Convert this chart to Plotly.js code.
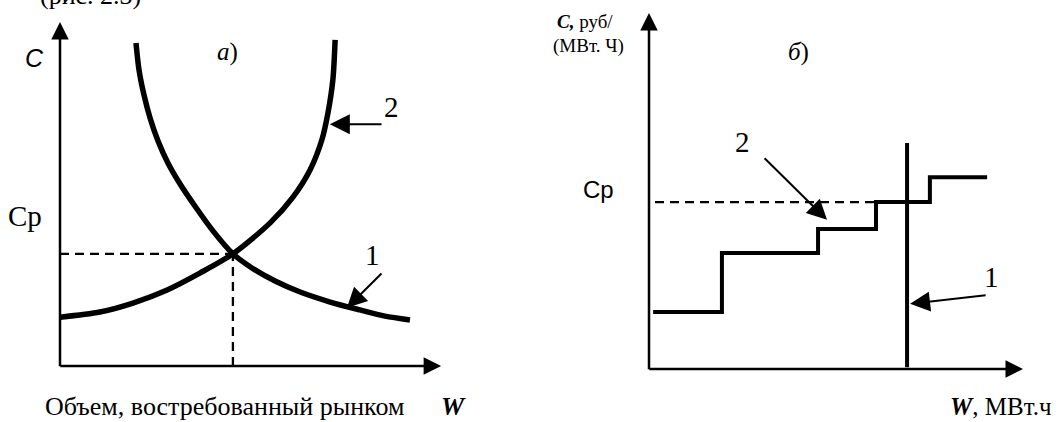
<!DOCTYPE html>
<html>
<head>
<meta charset="utf-8">
<script src="https://cdn.plot.ly/plotly-3.0.1.min.js"></script>
<style>html,body{margin:0;padding:0;background:#fff;}#chart{width:1061px;height:422px;}</style>
</head>
<body>
<div id="chart"></div>
<script>
// ---- Data (a): demand / supply curves, abstract units ----
const supplyW = [0, 10.5, 19.2, 28.2, 36.8, 45.5, 55.3, 61.3, 65.8, 68.9, 70.5, 71.8, 72.4];
const supplyC = [14.2, 15.7, 18.3, 22.1, 27.0, 32.6, 41.6, 49.1, 57.0, 65.7, 73.5, 83.1, 94.8];
const demandW = [20.0, 20.8, 22.1, 23.7, 25.8, 28.4, 31.6, 35.5, 40.3, 45.5, 50.5, 56.6, 63.2, 71.1, 78.9, 85.5, 92.1];
const demandC = [93.9, 86.0, 78.8, 72.1, 65.4, 59.0, 52.9, 46.5, 39.2, 32.6, 28.5, 24.7, 21.5, 18.6, 16.3, 14.5, 13.4];
const eqW = 45.5, eqC = 32.6;

// ---- Data (б): stepwise supply and fixed demand ----
const stepW = [1.1, 19.5, 45.2, 60.7, 75.1, 90.4];
const stepC = [16.0, 32.6, 39.3, 46.9, 53.9, 53.9];
const fixedW = [69.0, 69.0];
const fixedC = [0.5, 63.5];
const cpRight = 46.9;
const cpDashEnd = 60.7;

const W = 1061, H = 422;
function P(xp, yp){ return {x: xp / W, y: 1 - yp / H}; }
const SERIF = 'Liberation Serif, Times New Roman, serif';
const SANS = 'Liberation Sans, Arial, sans-serif';

const traces = [
  {x: supplyW, y: supplyC, xaxis:'x', yaxis:'y', mode:'lines', line:{color:'#000', width:5.5, shape:'spline', smoothing:0.8}},
  {x: demandW, y: demandC, xaxis:'x', yaxis:'y', mode:'lines', line:{color:'#000', width:5.5, shape:'spline', smoothing:0.8}},
  {x: [0, eqW], y: [eqC, eqC], xaxis:'x', yaxis:'y', mode:'lines', line:{color:'#000', width:2.3, dash:'9px,6px'}},
  {x: [eqW, eqW], y: [0, eqC], xaxis:'x', yaxis:'y', mode:'lines', line:{color:'#000', width:2.3, dash:'9px,6px'}},
  {x: [1.6, cpDashEnd], y: [cpRight, cpRight], xaxis:'x2', yaxis:'y2', mode:'lines', line:{color:'#000', width:2.3, dash:'9px,6px'}},
  {x: stepW, y: stepC, xaxis:'x2', yaxis:'y2', mode:'lines', line:{color:'#000', width:4, shape:'hv'}},
  {x: fixedW, y: fixedC, xaxis:'x2', yaxis:'y2', mode:'lines', line:{color:'#000', width:4}}
];

function txt(t, xp, yp, size, family){
  const p = P(xp, yp);
  return {text:t, x:p.x, y:p.y, xref:'paper', yref:'paper', showarrow:false,
          xanchor:'center', yanchor:'middle', font:{family:family||SERIF, size:size, color:'#000'}};
}
function arrow(xr, yr, tx, ty, fx, fy, head, size, width){
  return {text:'', x:tx, y:ty, ax:fx, ay:fy, xref:xr, yref:yr, axref:xr, ayref:yr,
          showarrow:true, arrowhead:head, arrowsize:size, arrowwidth:width, arrowcolor:'#000', standoff:0, startstandoff:0};
}

const annotations = [
  // axes with arrows
  arrow('x','y', 0, 100, 0, -0.5, 2, 1.4, 2.5),
  arrow('x','y', 100.3, 0, -0.3, 0, 2, 1.4, 2.5),
  arrow('x2','y2', 0, 100, 0, -0.5, 2, 1.4, 2.5),
  arrow('x2','y2', 100, 0, -0.3, 0, 2, 1.4, 2.5),
  // pointers
  arrow('x','y', 71.0, 70.3, 85.0, 70.3, 2, 2, 2),
  arrow('x','y', 75.5, 16.9, 85.0, 27.3, 2, 2, 2),
  arrow('x2','y2', 47.6, 41.9, 30.5, 59.6, 2, 2, 2),
  arrow('x2','y2', 69.8, 18.3, 90.4, 20.8, 2, 2, 2),
  // texts (a)
  txt('(рис. 2.3)', 90, -4, 26),
  txt('<i>C</i>', 34, 58, 25, SANS),
  txt('<i>а</i>)', 227, 52, 25),
  txt('Ср', 25, 216, 29),
  txt('2', 391, 107, 29),
  txt('1', 372, 255, 29),
  txt('Объем, востребованный рынком', 224, 406, 26),
  txt('<b><i>W</i></b>', 453, 406, 26),
  // texts (б)
  txt('<b><i>C,</i></b> руб/', 585, 21, 19),
  txt('(МВт. Ч)', 588, 46, 19),
  txt('<i>б</i>)', 798, 52, 25),
  txt('Ср', 598, 189, 24, SANS),
  txt('2', 742, 142, 29),
  txt('1', 991, 277, 29),
  txt('<b><i>W</i></b>, МВт.ч', 1001, 406, 25)
];

const hidden = {visible:false, fixedrange:true};
const layout = {
  width: W, height: H,
  margin:{l:0, r:0, t:0, b:0},
  paper_bgcolor:'#fff', plot_bgcolor:'rgba(0,0,0,0)',
  showlegend:false,
  xaxis: Object.assign({domain:[60/W, 447.6/W], range:[0, 102], anchor:'y'}, hidden),
  yaxis: Object.assign({domain:[(H-366)/H, (H-15.1)/H], range:[0, 102], anchor:'x'}, hidden),
  xaxis2: Object.assign({domain:[649/W, 1030.5/W], range:[0, 102], anchor:'y2'}, hidden),
  yaxis2: Object.assign({domain:[(H-369)/H, (H-5.9)/H], range:[0, 102], anchor:'x2'}, hidden),
  annotations: annotations
};

Plotly.newPlot('chart', traces, layout, {staticPlot:true, displayModeBar:false});
</script>
</body>
</html>
